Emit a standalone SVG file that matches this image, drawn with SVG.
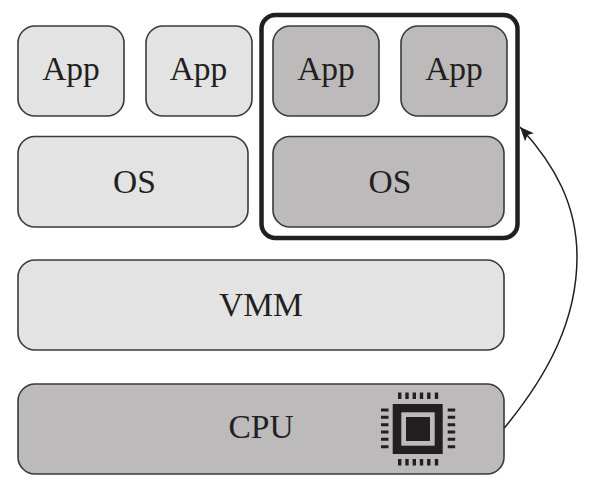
<svg xmlns="http://www.w3.org/2000/svg" width="591" height="487" viewBox="0 0 591 487">
<style>
.n{stroke:#3a3a3a;stroke-width:1.600}
.l{fill:#e3e3e3}
.d{fill:#bcbabb}
text{font-family:"Liberation Serif","Times New Roman",serif;font-size:33.500px;fill:#231f20;text-anchor:middle}
.k{fill:#231f20}
</style>
<defs>
<marker id="ah" markerUnits="userSpaceOnUse" markerWidth="16" markerHeight="14" refX="14" refY="6" orient="auto">
<path d="M0 0L14 6L0 12L3 6Z" fill="#231f20"/>
</marker>
</defs>
<rect width="591" height="487" fill="#fff"/>
<g id="app1"><rect class="n l" x="18" y="26" width="106" height="90" rx="17"/><text x="71" y="80">App</text></g>
<g id="app2"><rect class="n l" x="146" y="26" width="106" height="90" rx="17"/><text x="198.500" y="80">App</text></g>
<g id="os1"><rect class="n l" x="18" y="136.500" width="230" height="90.500" rx="17"/><text x="134.500" y="193">OS</text></g>
<g id="app3"><rect class="n d" x="273" y="26" width="106" height="90" rx="17"/><text x="326" y="80">App</text></g>
<g id="app4"><rect class="n d" x="401" y="26" width="106" height="90" rx="17"/><text x="454" y="80">App</text></g>
<g id="os2"><rect class="n d" x="273" y="136.500" width="231" height="90.500" rx="17"/><text x="390" y="193">OS</text></g>
<g id="frame"><rect x="261.500" y="15" width="256" height="223" rx="14" fill="none" stroke="#231f20" stroke-width="4.500"/></g>
<g id="vmm"><rect class="n l" x="18" y="260" width="486" height="90" rx="17"/><text x="261" y="316">VMM</text></g>
<g id="cpu"><rect class="n d" x="18" y="384" width="486" height="90" rx="17"/><text x="261" y="438">CPU</text>
<g id="chip">
<rect class="k" x="392.700" y="404" width="50" height="50"/>
<rect x="401.300" y="412.300" width="33.400" height="33.400" fill="#bcbabb"/>
<rect class="k" x="406" y="417" width="24" height="24"/>
<path fill="none" stroke="#231f20" stroke-width="3.400" d="M399.700 392.500v6.500M407 392.500v6.500M414.300 392.500v6.500M421.500 392.500v6.500M428.800 392.500v6.500M436.500 392.500v6.500M399.700 459v6.500M407 459v6.500M414.300 459v6.500M421.500 459v6.500M428.800 459v6.500M436.500 459v6.500"/>
<path fill="none" stroke="#231f20" stroke-width="3" d="M381 410h7.500M381 417.300h7.500M381 424.700h7.500M381 432h7.500M381 439.300h7.500M381 446.700h7.500M447.700 410h7.500M447.700 417.300h7.500M447.700 424.700h7.500M447.700 432h7.500M447.700 439.300h7.500M447.700 446.700h7.500"/>
</g></g>
<g id="connectors"><path d="M504.300 428C548 375 577 320 577 257C577 205 555 165 520 127" fill="none" stroke="#231f20" stroke-width="1.500" marker-end="url(#ah)"/></g>
</svg>
